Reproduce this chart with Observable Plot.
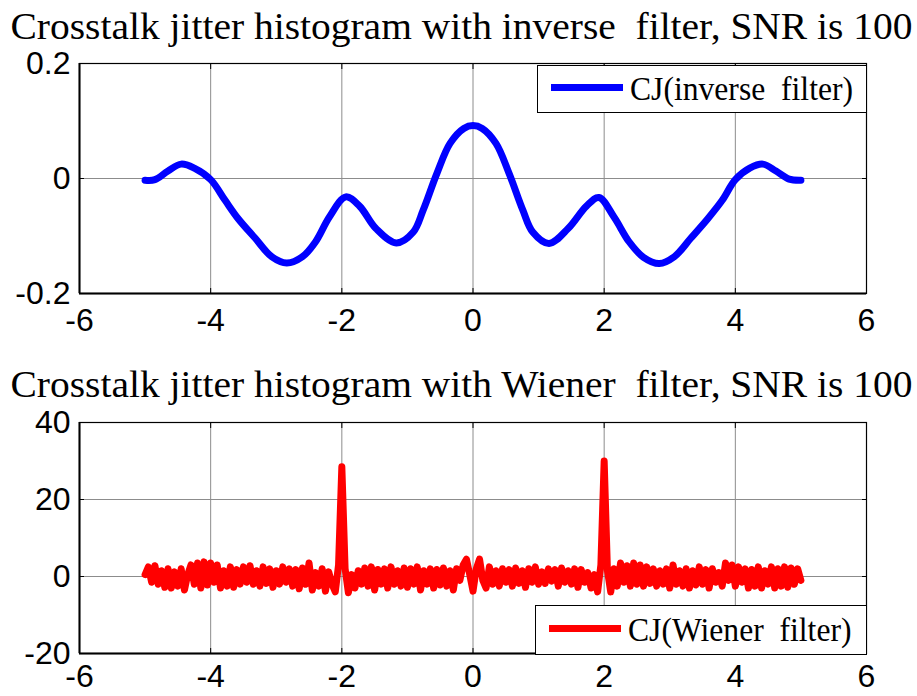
<!DOCTYPE html>
<html>
<head>
<meta charset="utf-8">
<script src="https://cdn.jsdelivr.net/npm/d3@7"></script>
<script src="https://cdn.jsdelivr.net/npm/@observablehq/plot@0.6"></script>
<style>
  html, body { margin: 0; padding: 0; background: white; }
  #wrap { position: relative; width: 917px; height: 696px; overflow: hidden; background: white; }
  #wrap svg { position: absolute; left: 0; }
  svg text { white-space: pre; }
  .legend { position: absolute; background: white; border: 1.5px solid black; box-sizing: border-box; }
  .legend .sw { position: absolute; left: 13px; width: 72px; height: 7px; }
  .legend .lab { position: absolute; left: 92px; font-family: "Liberation Serif", "Times New Roman", serif; font-size: 34px; white-space: pre; line-height: 1; transform: scaleX(0.93); transform-origin: 0 0; }
</style>
</head>
<body>
<div id="wrap"></div>
<script>
// ---- data ----
const xTicks = [-6, -4, -2, 0, 2, 4, 6];
const topYTicks = [-0.2, 0, 0.2];
const botYTicks = [-20, 0, 20, 40];

const title1 = "Crosstalk jitter histogram with inverse  filter, SNR is 100";
const title2 = "Crosstalk jitter histogram with Wiener  filter, SNR is 100";
const legend1 = "CJ(inverse  filter)";
const legend2 = "CJ(Wiener  filter)";

// inverse filter curve (read at key points)
const inverseX = [-5.0, -4.85, -4.65, -4.45, -4.25, -4.0, -3.78, -3.58, -3.32, -3.07, -2.84, -2.6, -2.4, -2.19, -1.94, -1.73, -1.48, -1.17, -0.91, -0.76, -0.55, -0.35, -0.14, 0,
                  0.14, 0.35, 0.55, 0.76, 0.91, 1.16, 1.45, 1.73, 1.92, 2.15, 2.38, 2.6, 2.84, 3.07, 3.32, 3.58, 3.8, 4.0, 4.22, 4.42, 4.62, 4.82, 5.0];
const inverseY = [-0.003, -0.002, 0.013, 0.025, 0.018, -0.002, -0.038, -0.070, -0.104, -0.136, -0.147, -0.136, -0.110, -0.067, -0.032, -0.048, -0.087, -0.112, -0.093, -0.055, 0.009, 0.061, 0.087, 0.092,
                  0.087, 0.061, 0.009, -0.055, -0.093, -0.113, -0.087, -0.048, -0.033, -0.067, -0.110, -0.137, -0.148, -0.136, -0.104, -0.070, -0.038, -0.002, 0.018, 0.025, 0.013, -0.001, -0.003];

// Wiener filter curve, x from -5 to 5 in steps of 0.05
const wienerStart = -5, wienerStep = 0.05;
const wienerY = [
  0.5, 2.5, -1.5, 2.8, -2.0, 1.5, -2.8, 2.0, -3.0, 1.2, -2.5, 2.0, -3.5, 0.5, 3.0, -2.0, 3.5, -3.0, 3.8, -2.2,
  3.5, -1.5, 3.0, -3.0, 1.5, -2.5, 2.5, -2.8, 1.8, -2.0, 2.5, -1.5, 2.8, -2.0, 1.5, -2.5, 2.5, -1.8, 2.0, -2.8,
  1.5, -2.0, 2.5, -1.5, 2.0, -2.5, 1.8, -3.2, 2.2, -2.0, 3.5, -3.5, 1.0, -2.5, 2.0, -3.8, 1.2, -2.0, -4.0, 3.0,
  28.5, 2.0, -4.2, 0.5, -3.0, 1.5, -2.0, 2.2, -2.5, 2.5, -3.5, 1.8, -2.0, 2.0, -3.0, 2.5, -2.0, 1.5, -2.5, 2.2,
  -2.8, 2.0, -2.0, 2.5, -3.5, 1.5, -2.0, 2.0, -3.0, 1.8, -2.2, 2.2, -2.5, 1.5, -3.5, 2.0, -1.0, 3.0, 4.5, 0.5,
  -3.8, 2.0, 4.5, -1.0, -3.0, 2.5, -2.0, 1.5, -2.5, 2.0, -1.5, 1.8, -2.5, 2.2, -1.8, 1.5, -2.8, 2.0, -1.5, 2.5,
  -2.0, 1.2, -1.8, 2.0, -1.2, 1.8, -2.5, 2.2, -1.5, 1.5, -2.0, 2.0, -2.8, 1.8, -1.5, 1.0, -3.0, 0.5, -4.0, 3.0,
  30.0, 1.5, -4.0, 2.0, -2.5, 3.5, -1.5, 2.8, -2.5, 3.5, -2.0, 3.0, -2.5, 2.5, -1.8, 2.0, -2.5, 1.5, -2.0, 2.0,
  -3.0, 3.0, -2.0, 1.5, -2.5, 2.0, -3.0, 1.5, -2.2, 2.5, -2.0, 1.8, -3.0, 2.0, -1.5, 1.0, -2.5, 3.5, -1.0, 3.0,
  -2.5, 2.5, -1.5, 2.0, -3.0, 1.8, -2.5, 2.5, -3.0, 1.5, -2.0, 2.5, -3.0, 2.0, -2.5, 2.5, -2.8, 2.2, -2.0, 2.0,
  -1.0
];

// ---- tables ----
const inverseData = inverseX.map((x, i) => ({x, y: inverseY[i]}));
const wienerData = wienerY.map((y, i) => ({x: wienerStart + i * wienerStep, y}));

const fmt = d => String(d);
const sans = "'Liberation Sans', Arial, sans-serif";
const serif = "'Liberation Serif', 'Times New Roman', serif";
const gridStyle = {stroke: "#8c8c8c", strokeOpacity: 1, strokeWidth: 1};

function panel({height, marginTop, marginBottom, yDomain, yTicks, data, color, smooth, title, titleDy, xPad}) {
  return Plot.plot({
    width: 917, height,
    marginLeft: 79, marginRight: 51, marginTop, marginBottom,
    x: {domain: [-6, 6]},
    y: {domain: yDomain},
    style: {fontFamily: sans, fontSize: "32px", color: "black", background: "white", overflow: "visible"},
    marks: [
      Plot.gridX(xTicks, gridStyle),
      Plot.gridY(yTicks, gridStyle),
      Plot.line(data, {x: "x", y: "y", stroke: color, strokeWidth: 7, curve: smooth ? "catmull-rom" : "linear"}),
      Plot.frame({stroke: "black", strokeWidth: 1.2}),
      Plot.ruleX([-6], {stroke: "black", strokeWidth: 2}),
      Plot.ruleY([yDomain[0]], {stroke: "black", strokeWidth: 2}),
      Plot.axisX(xTicks, {anchor: "bottom", tickSize: -5, tickFormat: () => "", label: null}),
      Plot.axisX(xTicks, {anchor: "top", tickSize: -5, tickFormat: () => "", label: null}),
      Plot.axisY(yTicks, {anchor: "left", tickSize: -5, tickFormat: () => "", label: null}),
      Plot.axisY(yTicks, {anchor: "right", tickSize: -5, tickFormat: () => "", label: null}),
      Plot.axisX(xTicks, {anchor: "bottom", tickSize: 0, tickPadding: xPad, tickFormat: fmt, label: null, fontSize: 32}),
      Plot.axisY(yTicks, {anchor: "left", tickSize: 0, tickPadding: 9, tickFormat: fmt, label: null, fontSize: 32}),
      Plot.text([title], {frameAnchor: "top-left", dx: -69, dy: titleDy, textAnchor: "start", lineAnchor: "bottom",
                          fontFamily: serif, fontSize: 38, fill: "black"})
    ]
  });
}

const wrap = document.getElementById("wrap");

const p1 = panel({height: 350, marginTop: 63, marginBottom: 57, yDomain: [-0.2, 0.2], yTicks: topYTicks,
                  data: inverseData, color: "#0000ff", smooth: true, title: title1, titleDy: -25, xPad: 15});
p1.style.top = "0px";
wrap.appendChild(p1);

const p2 = panel({height: 346, marginTop: 72, marginBottom: 43, yDomain: [-20, 40], yTicks: botYTicks,
                  data: wienerData, color: "#ff0000", smooth: false, title: title2, titleDy: -26, xPad: 11});
p2.style.top = "350px";
wrap.appendChild(p2);

// stretch titles to the reference width
for (const svg of [p1, p2]) {
  d3.select(svg).selectAll("text")
    .filter(function() { return this.textContent.startsWith("Crosstalk"); })
    .attr("textLength", 902).attr("lengthAdjust", "spacingAndGlyphs");
}

// legends
function addLegend(text, color, left, top, width, height, lineY, baseY) {
  const box = document.createElement("div");
  box.className = "legend";
  Object.assign(box.style, {left: left + "px", top: top + "px", width: width + "px", height: height + "px"});
  const sw = document.createElement("div");
  sw.className = "sw";
  sw.style.background = color;
  sw.style.top = (lineY - 3.5 - 1.5) + "px";
  const lab = document.createElement("div");
  lab.className = "lab";
  lab.textContent = text;
  lab.style.top = (baseY - 28.5 - 1.5) + "px";
  box.appendChild(sw);
  box.appendChild(lab);
  wrap.appendChild(box);
}
addLegend(legend1, "#0000ff", 537, 65, 330, 48, 23, 36);
addLegend(legend2, "#ff0000", 535, 605, 332, 50, 24, 37);
</script>
</body>
</html>
